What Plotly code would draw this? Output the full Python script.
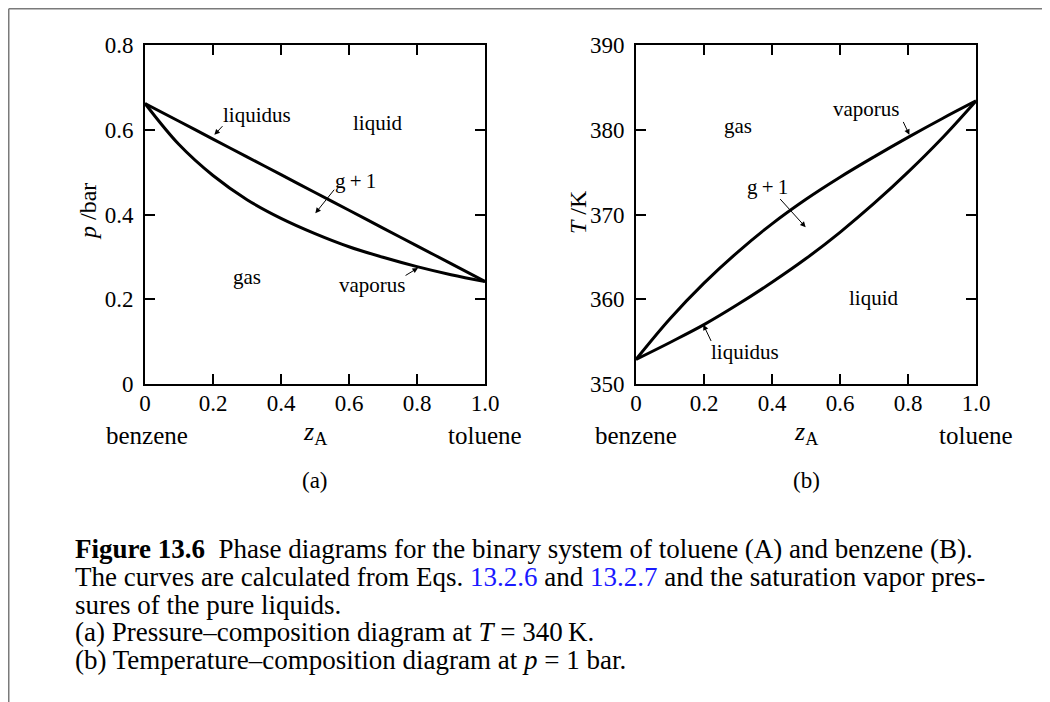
import plotly.graph_objects as go

# page body has an 8 px margin; the figure is sized to fit the 1050x702 window
OFF = 8
W, H = 1050 - OFF, 702 - OFF

# ---- data ----
zA = [0.0, 0.1, 0.2, 0.3, 0.4, 0.5, 0.6, 0.7, 0.8, 0.9, 1.0]

# (a) pressure-composition diagram at T = 340 K  (p / bar)
p_liquidus = [0.662, 0.620, 0.578, 0.536, 0.494, 0.452, 0.410, 0.368, 0.326, 0.284, 0.242]
p_vaporus = [0.662, 0.565, 0.492, 0.435, 0.391, 0.355, 0.324, 0.299, 0.277, 0.258, 0.242]

# (b) temperature-composition diagram at p = 1 bar  (T / K)
T_liquidus = [352.9, 354.9, 357.0, 359.4, 362.0, 364.8, 367.9, 371.3, 375.0, 379.0, 383.4]
T_vaporus = [352.9, 357.7, 361.9, 365.6, 368.9, 371.8, 374.4, 376.8, 379.1, 381.3, 383.4]

x_ticks = [0, 0.2, 0.4, 0.6, 0.8, 1.0]
x_ticktext = ["0", "0.2", "0.4", "0.6", "0.8", "1.0"]
p_ticks = [0, 0.2, 0.4, 0.6, 0.8]
p_ticktext = ["0", "0.2", "0.4", "0.6", "0.8"]
T_ticks = [350, 360, 370, 380, 390]
T_ticktext = ["350", "360", "370", "380", "390"]

SERIF = "Liberation Serif"


def px(x):
    return (x - OFF) / W


def py(y):
    return 1 - (y - OFF) / H


fig = go.Figure()
line_style = dict(color="black", width=3, shape="spline", smoothing=1.0)
fig.add_trace(go.Scatter(x=zA, y=p_liquidus, mode="lines", line=line_style, xaxis="x", yaxis="y"))
fig.add_trace(go.Scatter(x=zA, y=p_vaporus, mode="lines", line=line_style, xaxis="x", yaxis="y"))
fig.add_trace(go.Scatter(x=zA, y=T_liquidus, mode="lines", line=line_style, xaxis="x2", yaxis="y2"))
fig.add_trace(go.Scatter(x=zA, y=T_vaporus, mode="lines", line=line_style, xaxis="x2", yaxis="y2"))

axis_common = dict(
    showline=True, linecolor="black", linewidth=2, mirror="ticks",
    ticks="inside", ticklen=10, tickwidth=1.5, tickcolor="black",
    showgrid=False, zeroline=False, automargin=False,
    tickfont=dict(family=SERIF, size=23, color="black"),
    fixedrange=True,
)
ydom = [py(384), py(45)]
fig.update_layout(
    template="none",
    xaxis=dict(domain=[px(145), px(485)], range=[0, 1], tickvals=x_ticks, ticktext=x_ticktext,
               anchor="y", ticklabelstandoff=-3, **axis_common),
    yaxis=dict(domain=ydom, range=[0, 0.8], tickvals=p_ticks, ticktext=p_ticktext,
               anchor="x", ticklabelstandoff=5, **axis_common),
    xaxis2=dict(domain=[px(636), px(976)], range=[0, 1], tickvals=x_ticks, ticktext=x_ticktext,
                anchor="y2", ticklabelstandoff=-3, **axis_common),
    yaxis2=dict(domain=ydom, range=[350, 390], tickvals=T_ticks, ticktext=T_ticktext,
                anchor="x2", ticklabelstandoff=5, **axis_common),
)

ann = []


def label(text, x, y, xref, yref, size=21, xanchor="center", yanchor="middle", **kw):
    ann.append(dict(text=text, x=x, y=y, xref=xref, yref=yref, showarrow=False,
                    xanchor=xanchor, yanchor=yanchor,
                    font=dict(family=SERIF, size=size, color="black"), **kw))


def arrow(x, y, ax, ay, xr, yr):
    ann.append(dict(text="", x=x, y=y, ax=ax, ay=ay, xref=xr, yref=yr, axref=xr, ayref=yr,
                    showarrow=True, arrowhead=2, arrowsize=1.1, arrowwidth=1, arrowcolor="black"))


# (a) labels
label("liquidus", 0.33, 0.635, "x", "y")
arrow(0.204, 0.588, 0.232, 0.612, "x", "y")
label("liquid", 0.684, 0.616, "x", "y")
label("g\u2009+\u20091", 0.62, 0.48, "x", "y")
arrow(0.501, 0.403, 0.560, 0.462, "x", "y")
label("gas", 0.301, 0.252, "x", "y")
label("vaporus", 0.67, 0.234, "x", "y")
arrow(0.803, 0.274, 0.762, 0.254, "x", "y")

# (b) labels
label("gas", 0.301, 380.5, "x2", "y2")
label("vaporus", 0.678, 382.5, "x2", "y2")
arrow(0.804, 379.4, 0.784, 381.1, "x2", "y2")
label("g\u2009+\u20091", 0.386, 373.3, "x2", "y2")
arrow(0.499, 368.5, 0.42, 372.0, "x2", "y2")
label("liquid", 0.70, 360.2, "x2", "y2")
label("liquidus", 0.32, 353.8, "x2", "y2")
arrow(0.198, 357.0, 0.223, 354.9, "x2", "y2")

# axis titles and composition labels
label("<i>p</i> /bar", px(88), py(212), "paper", "paper", size=24, textangle=-90)
label("<i>T</i> /K", px(578), py(212), "paper", "paper", size=24, textangle=-90)
for cx in [147, 636]:
    label("benzene", px(cx), py(435), "paper", "paper", size=25)
for cx in [485, 976]:
    label("toluene", px(cx), py(435), "paper", "paper", size=25)
for cx in [315, 806]:
    label("<i>z</i><sub>A</sub>", px(cx), py(433), "paper", "paper", size=26)
label("(a)", px(315), py(480), "paper", "paper", size=23)
label("(b)", px(806), py(480), "paper", "paper", size=23)

# caption
caption = [
    "<b>Figure 13.6</b>  Phase diagrams for the binary system of toluene (A) and benzene (B).",
    "The curves are calculated from Eqs. <span style='color:#1a1aff'>13.2.6</span> and "
    "<span style='color:#1a1aff'>13.2.7</span> and the saturation vapor pres-",
    "sures of the pure liquids.",
    "(a) Pressure\u2013composition diagram at <i>T</i> = 340\u2009K.",
    "(b) Temperature\u2013composition diagram at <i>p</i> = 1 bar.",
]
cap_y = [549, 577, 605, 632, 660]
for t, yy in zip(caption, cap_y):
    label(t, px(73), py(yy), "paper", "paper", size=27, xanchor="left", yanchor="middle")

edge = 0.75  # keep the 1.5 px frame lines fully inside the figure
fig.update_layout(
    annotations=ann,
    width=W, height=H,
    margin=dict(l=0, r=0, t=0, b=0, pad=0, autoexpand=False),
    paper_bgcolor="white", plot_bgcolor="white",
    showlegend=False,
    shapes=[
        dict(type="line", xref="paper", yref="paper",
             x0=px(OFF + edge), y0=py(OFF + edge), x1=1, y1=py(OFF + edge),
             line=dict(color="#7a7a7a", width=1.5)),
        dict(type="line", xref="paper", yref="paper",
             x0=px(OFF + edge), y0=py(OFF + edge), x1=px(OFF + edge), y1=0,
             line=dict(color="#7a7a7a", width=1.5)),
    ],
)

fig.write_html("out.html")
